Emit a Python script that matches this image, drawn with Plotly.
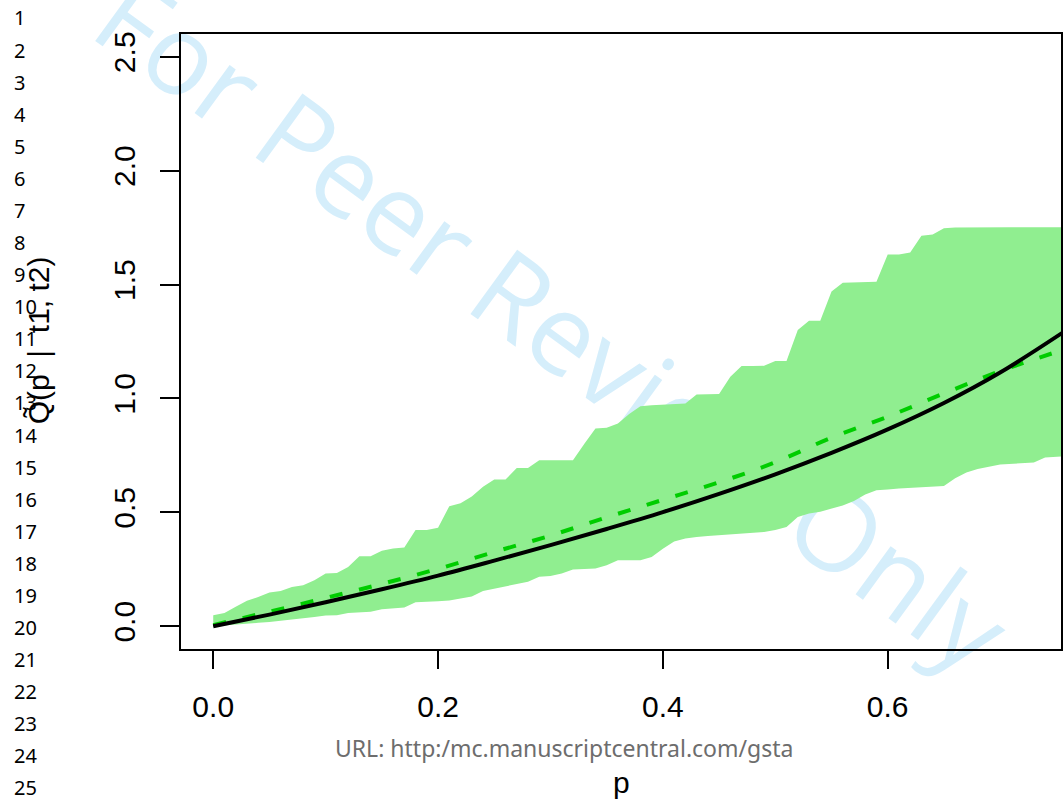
import math
import plotly.graph_objects as go

# Pointwise band for the estimated quantile function (p grid, lower, upper)
band_p = [0.00, 0.01, 0.02, 0.03, 0.04, 0.05, 0.06, 0.07, 0.08, 0.09,
          0.10, 0.11, 0.12, 0.13, 0.14, 0.15, 0.16, 0.17, 0.18, 0.19,
          0.20, 0.21, 0.22, 0.23, 0.24, 0.25, 0.26, 0.27, 0.28, 0.29,
          0.30, 0.31, 0.32, 0.33, 0.34, 0.35, 0.36, 0.37, 0.38, 0.39,
          0.40, 0.41, 0.42, 0.43, 0.44, 0.45, 0.46, 0.47, 0.48, 0.49,
          0.50, 0.51, 0.52, 0.53, 0.54, 0.55, 0.56, 0.57, 0.58, 0.59,
          0.60, 0.61, 0.62, 0.63, 0.64, 0.65, 0.66, 0.67, 0.68, 0.69,
          0.70, 0.71, 0.72, 0.73, 0.74, 0.75, 0.755]
band_upper = [0.048, 0.058, 0.085, 0.112, 0.128, 0.148, 0.155, 0.172, 0.180, 0.202,
              0.231, 0.234, 0.260, 0.307, 0.307, 0.331, 0.341, 0.346, 0.422, 0.422,
              0.432, 0.527, 0.540, 0.570, 0.612, 0.644, 0.644, 0.695, 0.695, 0.729,
              0.729, 0.729, 0.729, 0.800, 0.868, 0.871, 0.890, 0.932, 0.966, 0.970,
              0.972, 0.974, 0.978, 1.017, 1.019, 1.020, 1.095, 1.142, 1.142, 1.143,
              1.164, 1.164, 1.300, 1.341, 1.341, 1.470, 1.508, 1.510, 1.511, 1.512,
              1.632, 1.632, 1.641, 1.714, 1.720, 1.747, 1.750, 1.751, 1.752, 1.752,
              1.752, 1.752, 1.752, 1.752, 1.752, 1.752, 1.752]
band_lower = [0.000, 0.004, 0.008, 0.012, 0.015, 0.019, 0.025, 0.030, 0.034, 0.040,
              0.047, 0.048, 0.058, 0.060, 0.063, 0.075, 0.078, 0.082, 0.105, 0.108,
              0.110, 0.113, 0.122, 0.130, 0.155, 0.165, 0.175, 0.185, 0.195, 0.217,
              0.220, 0.232, 0.249, 0.251, 0.253, 0.268, 0.290, 0.290, 0.290, 0.304,
              0.340, 0.372, 0.385, 0.392, 0.396, 0.400, 0.404, 0.407, 0.411, 0.414,
              0.422, 0.436, 0.480, 0.495, 0.503, 0.515, 0.530, 0.550, 0.578, 0.597,
              0.600, 0.605, 0.610, 0.612, 0.614, 0.616, 0.650, 0.675, 0.690, 0.700,
              0.710, 0.714, 0.717, 0.719, 0.741, 0.744, 0.745]

# True quantile curve (solid black) and estimated curve (green dashed)
curve_p = [0.00, 0.05, 0.10, 0.15, 0.20, 0.25, 0.30, 0.35, 0.40, 0.45,
           0.50, 0.55, 0.60, 0.65, 0.70, 0.755]
true_q = [0.000, 0.051, 0.105, 0.162, 0.222, 0.288, 0.356, 0.427, 0.501, 0.581,
          0.667, 0.761, 0.864, 0.980, 1.114, 1.287]
est_q = [0.005, 0.064, 0.124, 0.186, 0.252, 0.326, 0.398, 0.478, 0.555, 0.632,
         0.720, 0.828, 0.920, 1.022, 1.120, 1.212]

x_ticks = [0.0, 0.2, 0.4, 0.6]
x_ticklabels = ["0.0", "0.2", "0.4", "0.6"]
y_ticks = [0.0, 0.5, 1.0, 1.5, 2.0, 2.5]
y_ticklabels = ["0.0", "0.5", "1.0", "1.5", "2.0", "2.5"]
line_numbers = [str(i) for i in range(1, 26)]

W, H = 1064, 802
ML, MR, MT, MB = 181, 1, 34, 153
PW, PH = W - ML - MR, H - MT - MB


def px_x(px):
    return (px - ML) / PW


def px_y(py):
    return (H - MB - py) / PH


fig = go.Figure()

fig.add_trace(go.Scatter(
    x=band_p + band_p[::-1],
    y=band_upper + band_lower[::-1],
    fill="toself", fillcolor="#90EE90",
    line=dict(width=0, color="#90EE90"),
    mode="lines", hoverinfo="skip", showlegend=False,
))
fig.add_trace(go.Scatter(
    x=curve_p, y=est_q, mode="lines",
    line=dict(color="#00CD00", width=4, dash="13px,17px", shape="spline"),
    showlegend=False,
))
fig.add_trace(go.Scatter(
    x=curve_p, y=true_q, mode="lines",
    line=dict(color="#000000", width=4, shape="spline"),
    showlegend=False,
))

axis_font = dict(family="Liberation Sans, Arial, sans-serif", size=30, color="#000000")

fig.update_xaxes(
    range=[-0.02867, 0.75415], tickvals=x_ticks, ticktext=x_ticklabels,
    ticks="outside", ticklen=18, tickwidth=2, tickcolor="#000000",
    showline=True, linewidth=2, linecolor="#000000", mirror=True,
    showgrid=False, zeroline=False, tickfont=axis_font, ticklabelstandoff=12,
)
fig.update_yaxes(
    range=[-0.1, 2.6], tickvals=y_ticks, ticktext=y_ticklabels,
    ticks="outside", ticklen=19, tickwidth=2, tickcolor="#000000",
    showline=True, linewidth=2, linecolor="#000000", mirror=True,
    showgrid=False, zeroline=False, tickfont=axis_font, tickangle=-90,
    ticklabelstandoff=13,
)

# Watermark, placed below the data layer
wm_cx, wm_cy = 550, 328
half = 580
ang = math.radians(36.0)
dx, dy = half * math.cos(ang), half * math.sin(ang)
shapes = [dict(
    type="line", xref="paper", yref="paper", layer="below",
    x0=px_x(wm_cx - dx), y0=px_y(wm_cy - dy),
    x1=px_x(wm_cx + dx), y1=px_y(wm_cy + dy),
    line=dict(width=0, color="rgba(0,0,0,0)"),
    label=dict(text="For Peer Review Only", textposition="middle",
               yanchor="middle", padding=0,
               font=dict(family="Open Sans, sans-serif", size=111, color="#D5EEFB")),
)]

annotations = []
for i, t in enumerate(line_numbers):
    annotations.append(dict(
        text=t, xref="paper", yref="paper", x=px_x(12), y=px_y(18 + i * 32.08),
        xanchor="left", yanchor="middle", showarrow=False,
        font=dict(family="Noto Sans, sans-serif", size=20, color="#000000"),
    ))
annotations.append(dict(
    text="URL: http:/mc.manuscriptcentral.com/gsta", xref="paper", yref="paper",
    x=px_x(565), y=px_y(748), xanchor="center", yanchor="middle", showarrow=False,
    font=dict(family="Noto Sans, sans-serif", size=23, color="#6d6d6d"),
))
annotations.append(dict(
    text="p", xref="paper", yref="paper", x=px_x(622), y=px_y(783),
    xanchor="center", yanchor="middle", showarrow=False, font=axis_font,
))
annotations.append(dict(
    text="Q\u0303(p\u00a0\u00a0|\u00a0\u00a0t1, t2)", xref="paper", yref="paper",
    x=px_x(38), y=px_y(340),
    xanchor="center", yanchor="middle", showarrow=False, textangle=-90, font=axis_font,
))

fig.update_layout(
    width=W, height=H, margin=dict(l=ML, r=MR, t=MT, b=MB, pad=0),
    paper_bgcolor="#FFFFFF", plot_bgcolor="rgba(0,0,0,0)",
    shapes=shapes, annotations=annotations, showlegend=False,
)

fig.write_html("out.html")
